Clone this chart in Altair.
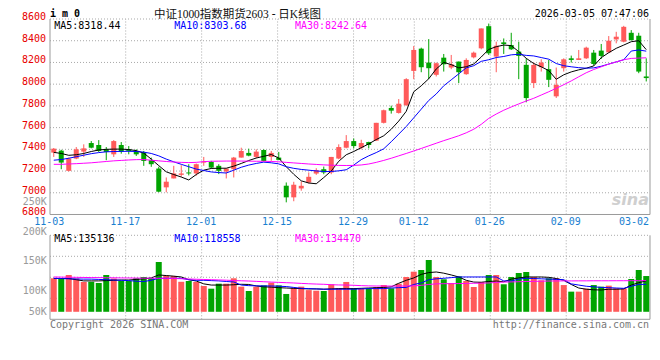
import altair as alt
import pandas as pd

# ---------------- data ----------------
opens = [7370, 7388, 7202, 7315, 7379, 7458, 7440, 7400, 7354, 7440,
         7400, 7379, 7370, 7300, 7223, 7050, 7132, 7165, 7187, 7178,
         7278, 7284, 7248, 7196, 7217, 7324, 7367, 7330, 7394, 7330,
         7324, 7065, 6958, 7040, 7095, 7177, 7217, 7187, 7315, 7415,
         7476, 7415, 7467, 7480, 7644, 7781, 7735, 7805, 8122, 8327,
         8199, 8086, 8244, 8153, 8208, 8092, 8247, 8330, 8534, 8254,
         8385, 8360, 8300, 8178, 8010, 8156, 8138, 7888, 8147, 8238,
         8223, 8238, 8290, 8309, 8293, 8412, 8391, 8473, 8446, 8071]
highs = [7412, 7396, 7324, 7421, 7446, 7476, 7485, 7421, 7485, 7467,
         7430, 7400, 7385, 7324, 7240, 7141, 7248, 7254, 7263, 7269,
         7330, 7294, 7263, 7223, 7330, 7415, 7406, 7400, 7400, 7385,
         7376, 7095, 7101, 7104, 7187, 7226, 7241, 7330, 7446, 7531,
         7500, 7488, 7470, 7644, 7766, 7802, 7863, 8055, 8351, 8336,
         8415, 8199, 8278, 8269, 8208, 8238, 8300, 8513, 8558, 8391,
         8421, 8473, 8391, 8238, 8199, 8229, 8223, 8153, 8238, 8263,
         8315, 8345, 8315, 8370, 8443, 8482, 8537, 8498, 8473, 8238]
lows = [7330, 7217, 7196, 7309, 7330, 7409, 7376, 7300, 7330, 7360,
        7354, 7339, 7248, 7239, 7005, 7004, 7132, 7148, 7160, 7157,
        7248, 7223, 7172, 7132, 7141, 7324, 7336, 7318, 7287, 7294,
        7300, 6912, 6922, 7019, 7086, 7165, 7171, 7171, 7309, 7409,
        7409, 7400, 7409, 7476, 7638, 7729, 7729, 7802, 8046, 8110,
        8046, 8071, 8116, 8138, 8010, 8086, 8238, 8321, 8269, 8110,
        8278, 8315, 8046, 7833, 7964, 8116, 7973, 7873, 8116, 8199,
        8223, 8232, 8171, 8232, 8290, 8376, 8385, 8400, 8101, 8025]
closes = [7406, 7278, 7315, 7400, 7409, 7415, 7385, 7376, 7476, 7379,
          7385, 7354, 7293, 7263, 7010, 7102, 7178, 7178, 7178, 7263,
          7287, 7232, 7202, 7223, 7324, 7385, 7342, 7379, 7293, 7367,
          7303, 6958, 7074, 7064, 7147, 7208, 7187, 7330, 7421, 7476,
          7430, 7458, 7440, 7644, 7760, 7756, 7820, 8046, 8315, 8156,
          8147, 8193, 8183, 8183, 8110, 8223, 8290, 8513, 8284, 8354,
          8369, 8321, 8260, 7872, 8177, 8199, 8040, 7994, 8229, 8223,
          8238, 8336, 8186, 8260, 8400, 8437, 8528, 8406, 8116, 8056]
ma5 = [7372, 7362, 7345, 7350, 7362, 7380, 7394, 7400, 7402, 7402,
       7398, 7388, 7365, 7310, 7250, 7193, 7168, 7145, 7118, 7168,
       7208, 7224, 7226, 7226, 7245, 7270, 7297, 7320, 7336, 7352,
       7320, 7240, 7170, 7110, 7090, 7083, 7140, 7200, 7290, 7350,
       7380, 7415, 7450, 7490, 7525, 7585, 7660, 7750, 7930, 7985,
       8050, 8140, 8200, 8180, 8150, 8160, 8186, 8250, 8320, 8345,
       8360, 8355, 8300, 8238, 8190, 8160, 8125, 8045, 8086, 8113,
       8132, 8147, 8168, 8244, 8290, 8330, 8360, 8391, 8400, 8318]
ma10 = [7300, 7306, 7318, 7332, 7346, 7360, 7370, 7377, 7380, 7381,
        7382, 7380, 7374, 7362, 7340, 7310, 7285, 7262, 7240, 7218,
        7205, 7192, 7186, 7182, 7208, 7235, 7255, 7270, 7282, 7276,
        7266, 7240, 7225, 7215, 7208, 7201, 7196, 7196, 7202, 7212,
        7255, 7305, 7340, 7370, 7405, 7470, 7540, 7610, 7690, 7770,
        7850, 7910, 7985, 8040, 8095, 8150, 8170, 8210, 8225, 8245,
        8255, 8270, 8275, 8265, 8260, 8245, 8230, 8190, 8170, 8160,
        8152, 8147, 8150, 8165, 8185, 8205, 8225, 8305, 8315, 8304]
ma30 = [7262, 7262, 7265, 7268, 7272, 7276, 7282, 7288, 7294, 7298,
        7302, 7305, 7306, 7300, 7294, 7288, 7283, 7280, 7278, 7280,
        7287, 7290, 7291, 7292, 7292, 7292, 7291, 7290, 7290, 7288,
        7285, 7280, 7275, 7270, 7265, 7261, 7257, 7254, 7252, 7251,
        7252, 7256, 7265, 7280, 7298, 7318, 7340, 7362, 7385, 7408,
        7432, 7456, 7480, 7502, 7525, 7552, 7585, 7630, 7685, 7725,
        7760, 7790, 7818, 7845, 7870, 7900, 7930, 7962, 7995, 8030,
        8068, 8105, 8135, 8160, 8185, 8205, 8225, 8237, 8240, 8243]
volumes_k = [121.4, 121.4, 126.9, 121.0, 115.2, 115.5, 113.5, 126.9, 121.0, 116.8,
             116.8, 121.4, 123.6, 121.4, 148.8, 125.8, 125.3, 115.5, 116.8, 115.2,
             108.4, 103.9, 112.3, 112.3, 121.4, 107.3, 100.0, 107.3, 109.5, 114.0,
             109.5, 95.0, 105.5, 107.3, 101.5, 100.5, 100.0, 111.3, 104.5, 115.2,
             104.5, 104.5, 104.5, 106.7, 110.0, 104.5, 112.3, 123.6, 132.5, 135.4,
             152.2, 123.6, 119.7, 113.5, 124.7, 116.8, 106.7, 115.2, 126.9, 126.9,
             111.3, 123.6, 130.3, 132.0, 123.6, 118.0, 121.4, 121.4, 110.0, 98.9,
             98.9, 103.9, 110.0, 107.3, 109.0, 104.5, 104.5, 120.2, 135.4, 125.2]
vma5_k = [121, 121, 121, 119, 117, 117, 117, 117.5, 118, 118.5,
          118.5, 119.5, 120.5, 122, 127, 126, 125, 123.6, 119, 116.8,
          112, 110, 110, 110, 110.5, 111.3, 111, 108.5, 107, 106.5,
          105.6, 105, 104.5, 104, 103.5, 103.5, 103, 103.5, 104, 104,
          104, 104.5, 105, 105.5, 106, 107, 113, 118, 122, 128,
          131, 132, 130, 127, 123.6, 118, 115, 114.7, 116, 116.8,
          115.5, 120, 122, 123.6, 123.6, 123.6, 123, 121, 118, 111,
          105, 103, 102, 101.7, 103, 103, 103.5, 110, 114, 117]
vma10_k = [121.4, 121, 120.5, 120.2, 120, 120, 119.5, 119, 118.5, 118,
           117.5, 116.5, 116, 118, 121.4, 121.4, 121.4, 121.4, 119, 118,
           118, 117.5, 117, 116, 115.2, 110, 109, 108.7, 108.5, 108.5,
           108, 107.5, 106, 104.5, 104, 103.5, 103, 103, 103, 103,
           103, 103.5, 104, 104, 104, 105, 105.6, 106, 111, 113.5,
           119, 120.5, 121.4, 122.5, 123.6, 123.6, 123.6, 123.6, 123.6, 123.6,
           117, 116.8, 120, 121.4, 121, 120.5, 120, 119.5, 119, 112,
           110, 108, 107, 106, 105.6, 105, 104.5, 108, 111, 111.3]
vma30_k = [123.6, 123.4, 123.2, 123, 122.8, 122.6, 122.5, 122.3, 122.2, 122,
           121.9, 121.8, 121.6, 121.5, 121.4, 121.4, 121, 120.6, 120.2, 119.8,
           119.4, 119, 118.6, 118.2, 117.6, 117.2, 116.8, 116.2, 115.6, 115,
           114.5, 114, 113.5, 112.8, 112.2, 111.7, 111.3, 110.6, 110.2, 110,
           109.6, 109, 108.6, 108.4, 108.4, 108.3, 108.3, 108.4, 108.6, 109.5,
           111, 112, 112.3, 112.4, 112.5, 112.8, 113, 113.2, 113.5, 114.5,
           115, 115.3, 115.6, 116, 116.2, 116.5, 116.8, 116.9, 117, 117,
           117.1, 117.1, 117.2, 117.2, 117.2, 117.3, 117.3, 117.4, 117.4, 117.5]

date_labels = ["11-03", "11-17", "12-01", "12-15", "12-29", "01-12", "01-26", "02-09", "03-02"]
date_label_idx = [0, 10, 20, 30, 40, 48, 58, 68, 77]
price_ticks = [6800, 7000, 7200, 7400, 7600, 7800, 8000, 8200, 8400, 8600]
vol_label_values = [250000, 200000, 150000, 100000]
vol_label_texts = ["250K", "200K", "150K", "100K"]
vol_low_value = 50000
vol_low_text = "50K"

legend_price = ["MA5:8318.44", "MA10:8303.68", "MA30:8242.64"]
legend_vol = ["MA5:135136", "MA10:118558", "MA30:134470"]
header_code = "i m 0"
header_title = "中证1000指数期货2603 - 日K线图"
header_time = "2026-03-05 07:47:06"
footer_left = "Copyright 2026 SINA.COM"
footer_right = "http://finance.sina.com.cn"

# ---------------- styles ----------------
RED = "#ff5a5a"
GREEN = "#00a400"
GRID = "#a8a8a8"
BORDER = "#9a9a9a"
MONO = "DejaVu Sans Mono"
BLUE_TXT = "#1a80d0"

n = len(opens)
df = pd.DataFrame({
    "xc": [i + 0.5 for i in range(n)],
    "o": opens, "h": highs, "l": lows, "c": closes,
    "v": [x * 1000 for x in volumes_k],
    "ma5": ma5, "ma10": ma10, "ma30": ma30,
    "vma5": [x * 1000 for x in vma5_k],
    "vma10": [x * 1000 for x in vma10_k],
    "vma30": [x * 1000 for x in vma30_k],
})
df["dir"] = ["up" if c >= o else "down" for o, c in zip(opens, closes)]

XMAX = n
gx = [i * XMAX / (XMAX - 1) - 0.1 for i in date_label_idx]
grid_df = pd.DataFrame({"gx": gx, "lab": date_labels})
vgrid_df = grid_df.iloc[1:-1]
one = pd.DataFrame({"k": [0]})

PX = alt.Scale(domain=[0, XMAX], nice=False, zero=False, padding=0)
PY = alt.Scale(domain=[6800, 8600], range=[195.5, 0], nice=False, zero=False)
VLO, VHI = 52357, 193771
VY = alt.Scale(domain=[VLO, VHI], range=[300.3, 216.3], nice=False, zero=False)
VBASE = 65000

COLOR = alt.Color("dir:N", scale=alt.Scale(domain=["up", "down"], range=[RED, GREEN]), legend=None)


def xf(field):
    return alt.X(field, scale=PX, axis=None)


def txt(text, x, y, color="black", size=10, align="left", font=MONO, weight="normal", style="normal"):
    return alt.Chart(one).mark_text(
        text=text, align=align, baseline="middle", font=font, fontSize=size,
        color=color, fontWeight=weight, fontStyle=style
    ).encode(x=alt.value(x), y=alt.value(y))


# ---------------- price panel ----------------
p_hgrid = alt.Chart(pd.DataFrame({"y": price_ticks[1:]})).mark_rule(
    color=GRID, strokeDash=[1, 2], strokeWidth=1
).encode(y=alt.Y("y:Q", scale=PY, axis=None),
         x=alt.XDatum(0, scale=PX, axis=None), x2=alt.datum(XMAX))
p_vgrid = alt.Chart(vgrid_df).mark_rule(color=GRID, strokeDash=[1, 2], strokeWidth=1, xOffset=0.5).encode(
    x=xf("gx:Q"), y=alt.YDatum(6800, scale=PY, axis=None), y2=alt.datum(8600))
p_vborder = alt.Chart(pd.DataFrame({"bx": [0, XMAX]})).mark_rule(color=BORDER, strokeWidth=1).encode(
    x=xf("bx:Q"), y=alt.YDatum(6800, scale=PY, axis=None), y2=alt.datum(8600))
p_hborder = alt.Chart(one).mark_rule(color=BORDER, strokeWidth=1).encode(
    y=alt.YDatum(6800, scale=PY, axis=None), x=alt.XDatum(0, scale=PX, axis=None), x2=alt.datum(XMAX))

wicks = alt.Chart(df).mark_rule(strokeWidth=1).encode(
    x=xf("xc:Q"), y=alt.Y("l:Q", scale=PY, axis=None), y2="h:Q", color=COLOR)
bodies = alt.Chart(df).mark_bar(size=5).encode(
    x=xf("xc:Q"), y=alt.Y("o:Q", scale=PY, axis=None), y2="c:Q", color=COLOR)
l5 = alt.Chart(df).mark_line(color="black", strokeWidth=1).encode(x=xf("xc:Q"), y=alt.Y("ma5:Q", scale=PY, axis=None))
l10 = alt.Chart(df).mark_line(color="#0000ff", strokeWidth=1).encode(x=xf("xc:Q"), y=alt.Y("ma10:Q", scale=PY, axis=None))
l30 = alt.Chart(df).mark_line(color="#ff00ff", strokeWidth=1).encode(x=xf("xc:Q"), y=alt.Y("ma30:Q", scale=PY, axis=None))

price_labels = alt.Chart(pd.DataFrame({"p": price_ticks})).mark_text(
    align="right", baseline="middle", font=MONO, fontSize=10, color="#e80000", dy=-2).encode(
    x=alt.value(-4), y=alt.Y("p:Q", scale=PY, axis=None), text="p:Q")

date_text = alt.Chart(grid_df).mark_text(font=MONO, fontSize=10, color=BLUE_TXT, baseline="middle", dy=7.5).encode(
    x=xf("gx:Q"), y=alt.YDatum(6800, scale=PY, axis=None), text="lab:N")

price_group = alt.layer(
    p_hgrid, p_vgrid, p_vborder, p_hborder, wicks, bodies, l5, l10, l30, price_labels, date_text,
    txt(legend_price[0], 4.3, 6.8, "black"),
    txt(legend_price[1], 124.3, 6.8, "#0000ff"),
    txt(legend_price[2], 245, 6.8, "#ff00ff"),
    txt(header_code, 0, -4.5, "black", weight="bold"),
    txt(header_title, 187.5, -4, "#111111", size=11.5, align="center",
        font="Liberation Serif, Noto Sans CJK SC"),
    txt(header_time, 599, -4.5, "black", align="right"),
    txt("sina", 599, 181, "#cfcfcf", size=16, align="right", font="DejaVu Sans", weight="bold", style="italic"),
)

# ---------------- volume panel ----------------
vgrid_vals = [VLO + k * (VHI - VLO) / 4 for k in (1, 2, 3, 4)]
v_hgrid = alt.Chart(pd.DataFrame({"y": vgrid_vals})).mark_rule(color=GRID, strokeDash=[1, 2], strokeWidth=1).encode(
    y=alt.Y("y:Q", scale=VY, axis=None), x=alt.XDatum(0, scale=PX, axis=None), x2=alt.datum(XMAX))
v_vgrid = alt.Chart(vgrid_df).mark_rule(color=GRID, strokeDash=[1, 2], strokeWidth=1, xOffset=0.5).encode(
    x=xf("gx:Q"), y=alt.YDatum(VLO, scale=VY, axis=None), y2=alt.datum(VHI))
v_vborder = alt.Chart(pd.DataFrame({"bx": [0, XMAX]})).mark_rule(color=BORDER, strokeWidth=1).encode(
    x=xf("bx:Q"), y=alt.YDatum(VLO, scale=VY, axis=None), y2=alt.datum(VHI))
v_hborder = alt.Chart(one).mark_rule(color=BORDER, strokeWidth=1).encode(
    y=alt.YDatum(VLO, scale=VY, axis=None), x=alt.XDatum(0, scale=PX, axis=None), x2=alt.datum(XMAX))
vbars = alt.Chart(df).mark_bar(size=6).encode(
    x=xf("xc:Q"), y=alt.Y("v:Q", scale=VY, axis=None), y2=alt.datum(VBASE), color=COLOR)
vl5 = alt.Chart(df).mark_line(color="black", strokeWidth=1).encode(x=xf("xc:Q"), y=alt.Y("vma5:Q", scale=VY, axis=None))
vl10 = alt.Chart(df).mark_line(color="#0000ff", strokeWidth=1).encode(x=xf("xc:Q"), y=alt.Y("vma10:Q", scale=VY, axis=None))
vl30 = alt.Chart(df).mark_line(color="#ff00ff", strokeWidth=1).encode(x=xf("xc:Q"), y=alt.Y("vma30:Q", scale=VY, axis=None))
vlabels = alt.Chart(pd.DataFrame({"v": vol_label_values, "t": vol_label_texts})).mark_text(
    align="right", baseline="middle", font=MONO, fontSize=10, color="#9a9a9a").encode(
    x=alt.value(-3.3), y=alt.Y("v:Q", scale=VY, axis=None), text="t:N")
vlabel_low = alt.Chart(pd.DataFrame({"v": [vol_low_value], "t": [vol_low_text]})).mark_text(
    align="right", baseline="middle", font=MONO, fontSize=10, color="#9a9a9a", dy=-9).encode(
    x=alt.value(-3.3), y=alt.Y("v:Q", scale=VY, axis=None), text="t:N")

vol_group = alt.layer(
    v_hgrid, v_vgrid, v_vborder, v_hborder, vbars, vl5, vl10, vl30, vlabels, vlabel_low,
    txt(legend_vol[0], 4.3, 220.3, "black"),
    txt(legend_vol[1], 124.3, 220.3, "#0000ff"),
    txt(legend_vol[2], 245, 220.3, "#ff00ff"),
    txt(footer_left, 0, 306.3, "#777777"),
    txt(footer_right, 599, 306.3, "#777777", align="right"),
)

chart = alt.layer(price_group, vol_group).resolve_scale(y="independent").properties(
    width=600, height=300.3,
    padding={"left": 42, "top": 11, "right": 2, "bottom": 15},
    autosize=alt.AutoSizeParams(type="none"),
).configure_view(stroke=None)

chart.save("out.html", embed_options={"renderer": "svg", "actions": False})
